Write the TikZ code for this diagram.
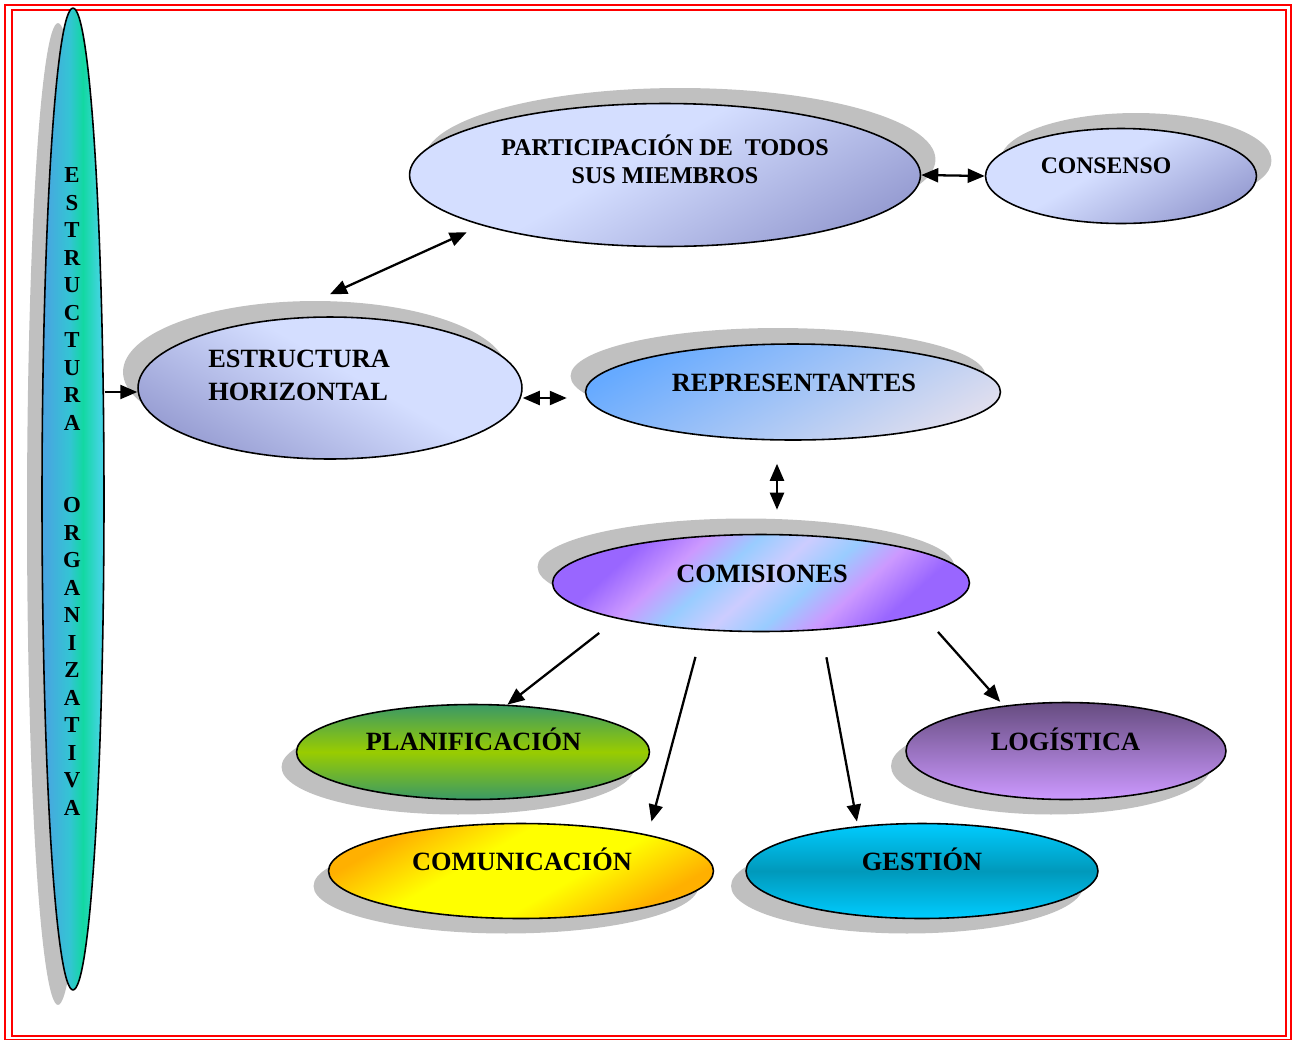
\documentclass[tikz,border=0pt]{standalone}
\usepackage{fontspec}
\setmainfont{Liberation Serif}
\usetikzlibrary{shapes.geometric,shadows,arrows.meta}

\definecolor{lavlight}{HTML}{D4DEFF}
\definecolor{lavdark}{HTML}{989ED3}
\definecolor{repblue}{HTML}{66AAFF}
\definecolor{reppale}{HTML}{DDDDEE}
\definecolor{compurple}{HTML}{9966FF}
\definecolor{comlilac}{HTML}{CC99FF}
\definecolor{comsky}{HTML}{99CCFF}
\definecolor{compale}{HTML}{CCCCFF}
\definecolor{plagreen}{HTML}{3A9966}
\definecolor{plalime}{HTML}{99CC00}
\definecolor{comuorange}{HTML}{FFB000}
\definecolor{comuyellow}{HTML}{FFFF00}
\definecolor{logdark}{HTML}{664C80}
\definecolor{loglight}{HTML}{CC99FF}
\definecolor{gescyan}{HTML}{00CCFF}
\definecolor{gesdeep}{HTML}{0099BB}
\definecolor{orgblue}{HTML}{48A6E0}
\definecolor{orgmid}{HTML}{34C4D4}
\definecolor{orggreen}{HTML}{12D8A2}
\definecolor{orgcyan}{HTML}{44D4E2}
\definecolor{shadowgray}{HTML}{C0C0C0}

\pgfdeclarehorizontalshading{comstripes}{100bp}{color(0bp)=(compurple); color(28bp)=(compurple); color(36bp)=(comlilac); color(43bp)=(comsky); color(50bp)=(compale); color(57bp)=(comsky); color(64bp)=(comlilac); color(72bp)=(compurple); color(100bp)=(compurple)}
\pgfdeclarehorizontalshading{orgband}{100bp}{color(0bp)=(orgblue); color(28bp)=(orgblue); color(47bp)=(orgmid); color(58bp)=(orggreen); color(72bp)=(orgcyan); color(100bp)=(orgcyan)}
\pgfdeclareverticalshading{lavsweep}{100bp}{color(0bp)=(lavdark); color(25bp)=(lavdark); color(55bp)=(lavlight); color(100bp)=(lavlight)}
\pgfdeclareverticalshading{comuglow}{100bp}{color(0bp)=(comuorange); color(27bp)=(comuorange); color(42bp)=(comuyellow); color(58bp)=(comuyellow); color(73bp)=(comuorange); color(100bp)=(comuorange)}

\tikzset{
  blob/.style={ellipse, draw=black, line width=0.9pt, inner sep=0pt},
  shadowUL/.style={drop shadow={shadow xshift=-0.3cm, shadow yshift=0.32cm, fill=shadowgray, opacity=1}},
  shadowUR/.style={drop shadow={shadow xshift=0.3cm, shadow yshift=0.31cm, fill=shadowgray, opacity=1}},
  shadowDL/.style={drop shadow={shadow xshift=-0.3cm, shadow yshift=-0.3cm, fill=shadowgray, opacity=1}},
  lavender/.style={shading=lavsweep, shading angle=#1},
  lbl/.style={font=\bfseries\fontsize{15}{18}\selectfont, inner sep=0pt, text height=9.9pt, text depth=0pt},
  link/.style={line width=1.3pt, -{Triangle[length=0.34cm,width=0.28cm]}},
  dlink/.style={line width=1.3pt, {Triangle[length=0.34cm,width=0.28cm]}-{Triangle[length=0.34cm,width=0.28cm]}}
}

\begin{document}
\begin{tikzpicture}[x=0.02cm, y=-0.02cm]
  \useasboundingbox (0, 0) rectangle (1292, 1039);
  % page frame
  \draw[red, line width=1.1pt] (5, 5) rectangle (1291, 1040);
  \draw[red, line width=1.4pt] (12, 10) rectangle (1286, 1036);

  % left column
  \node (org) at (73, 499) [blob, shadowDL, minimum width=1.24cm, minimum height=19.64cm, shading=orgband] {};
  \node (orgtxt) at (72, 167.5) [anchor=north, align=center, inner sep=0pt,
      font=\bfseries\fontsize{13}{15.65}\selectfont]
      {E\\S\\T\\R\\U\\C\\T\\U\\R\\A\\~\\~\\O\\R\\G\\A\\N\\I\\Z\\A\\T\\I\\V\\A};

  % upper ellipses
  \node (par) at (665, 175) [blob, shadowUR, minimum width=10.22cm, minimum height=2.86cm, lavender=30] {};
  \node (partxt) at (665, 184) [anchor=south, align=center, inner sep=0pt,
      font=\bfseries\fontsize{13.7}{15.9}\selectfont] {PARTICIPACIÓN DE~ TODOS\\SUS MIEMBROS};
  \node (con) at (1121, 176) [blob, shadowUR, minimum width=5.42cm, minimum height=1.9cm, lavender=30] {};
  \node (contxt) at (1106, 165.5) [lbl, font=\bfseries\fontsize{13.5}{16}\selectfont, text height=8.9pt] {CONSENSO};

  \node (hor) at (330, 388) [blob, shadowUL, minimum width=7.68cm, minimum height=2.84cm, lavender=-30] {};
  \node (hortxt) at (208, 401) [anchor=south west, align=left, inner sep=0pt,
      font=\bfseries\fontsize{15}{18.7}\selectfont] {ESTRUCTURA\\HORIZONTAL};

  \node (rep) at (793, 392) [blob, shadowUL, minimum width=8.3cm, minimum height=1.92cm,
      top color=repblue, bottom color=reppale, shading angle=30] {};
  \node (reptxt) at (794, 382.5) [lbl] {REPRESENTANTES};

  \node (com) at (761, 583) [blob, shadowUL, minimum width=8.34cm, minimum height=1.94cm,
      shading=comstripes, shading angle=-48] {};
  \node (comtxt) at (762, 574) [lbl] {COMISIONES};

  % commissions
  \node (pla) at (473, 752) [blob, shadowDL, minimum width=7.06cm, minimum height=1.9cm,
      top color=plagreen, bottom color=plagreen, middle color=plalime] {};
  \node (platxt) at (473.5, 741.5) [lbl] {PLANIFICACIÓN};

  \node (comu) at (521, 871) [blob, shadowDL, minimum width=7.7cm, minimum height=1.9cm,
      shading=comuglow, shading angle=30] {};
  \node (comutxt) at (522, 862) [lbl] {COMUNICACIÓN};

  \node (log) at (1066, 751) [blob, shadowDL, minimum width=6.4cm, minimum height=1.94cm,
      top color=logdark, bottom color=loglight] {};
  \node (logtxt) at (1065.5, 742) [lbl] {LOGÍSTICA};

  \node (ges) at (922, 871) [blob, shadowDL, minimum width=7.04cm, minimum height=1.9cm,
      top color=gescyan, bottom color=gescyan, middle color=gesdeep] {};
  \node (gestxt) at (922, 862) [lbl] {GESTIÓN};

  % connectors
  \coordinate (oh) at ([yshift=-0.08cm]hor.west);
  \draw[link] (oh -| org.east) -- (oh);
  \draw[dlink] ([yshift=0.44cm]hor.north) -- ([yshift=-0.23cm]par.193);
  \draw[dlink] (par.east) -- (con.west);
  \coordinate (hr) at ([yshift=-0.2cm]hor.east);
  \draw[dlink, shorten >=0.36cm] (hr) -- (hr -| rep.west);
  \coordinate (rc) at ([xshift=-0.32cm]rep.south);
  \draw[dlink, shorten <=0.46cm, shorten >=0.48cm] (rc) -- (rc |- com.north);

  \draw[link, shorten <=0.46cm] (com.194) -- (pla.54);
  \draw[link, shorten <=0.55cm, shorten >=0.27cm] (com.219) -- (comu.16);
  \draw[link, shorten <=0.55cm, shorten >=0.09cm] (com.322) -- (ges.145);
  \draw[link, shorten <=0.47cm, shorten >=0.1cm] (com.349) -- (log.144);
\end{tikzpicture}
\end{document}
